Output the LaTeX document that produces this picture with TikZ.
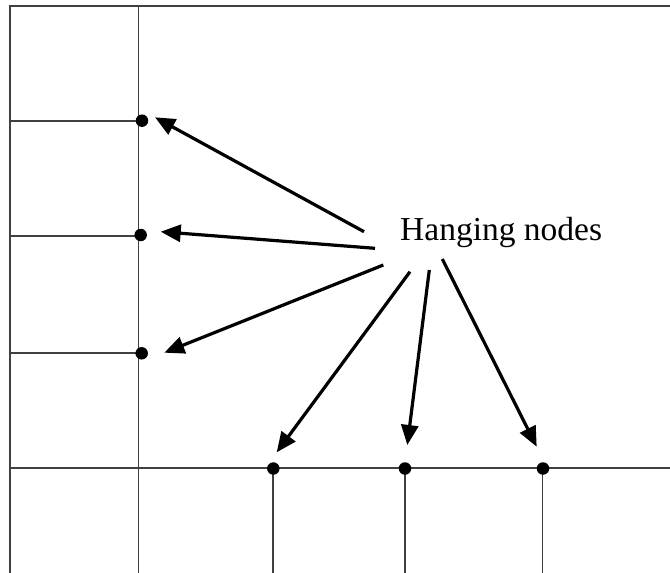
\documentclass[tikz,border=0pt]{standalone}
\usepackage{fontspec}
\setmainfont{Liberation Serif}
\usetikzlibrary{arrows.meta}
\begin{document}
\begin{tikzpicture}[x=1pt,y=-1pt,
  gridline/.style={draw=black!75,line width=1.3pt},
  hnode/.style={circle,fill=black,inner sep=0pt,minimum size=12.5pt},
  pointer/.style={line width=3.2pt,-{Triangle[length=20pt,width=17pt]},shorten <=0pt}
]
\useasboundingbox (0,0) rectangle (670,573);
% mesh lines
\draw[gridline] (10,573) -- (10,6) -- (670,6);
\draw[gridline] (138.5,6) -- (138.5,573);
\draw[gridline] (10,121) -- (138.5,121);
\draw[gridline] (10,236) -- (138.5,236);
\draw[gridline] (10,353) -- (138.5,353);
\draw[gridline] (10,468) -- (670,468);
\draw[gridline] (273,468) -- (273,573);
\draw[gridline] (405,468) -- (405,573);
\draw[gridline] (542.5,468) -- (542.5,573);
% hanging nodes
\node[hnode] (d1) at (142,120.7) {};
\node[hnode] (d2) at (140.7,235) {};
\node[hnode] (d3) at (141.7,353.3) {};
\node[hnode] (d4) at (273.3,468.5) {};
\node[hnode] (d5) at (405,468.5) {};
\node[hnode] (d6) at (543,468.5) {};
% label
\node[anchor=base west,inner sep=0pt,font=\fontsize{33.5}{40}\selectfont] (lbl) at (400,240.7) {Hanging nodes};
% arrow start and tip points
\coordinate (s1) at (364,231.7);
\coordinate (s2) at (375,248.3);
\coordinate (s3) at (383.3,265);
\coordinate (s4) at (410,271.7);
\coordinate (s5) at (429.3,270);
\coordinate (s6) at (442.3,259);
\coordinate (t1) at (155,117.3);
\coordinate (t2) at (160.7,231.7);
\coordinate (t3) at (164.3,352.7);
\coordinate (t4) at (276.7,452.3);
\coordinate (t5) at (407.3,445);
\coordinate (t6) at (536.7,446.7);
\foreach \i in {1,...,6} {\draw[pointer] (s\i) -- (t\i);}
\end{tikzpicture}
\end{document}
